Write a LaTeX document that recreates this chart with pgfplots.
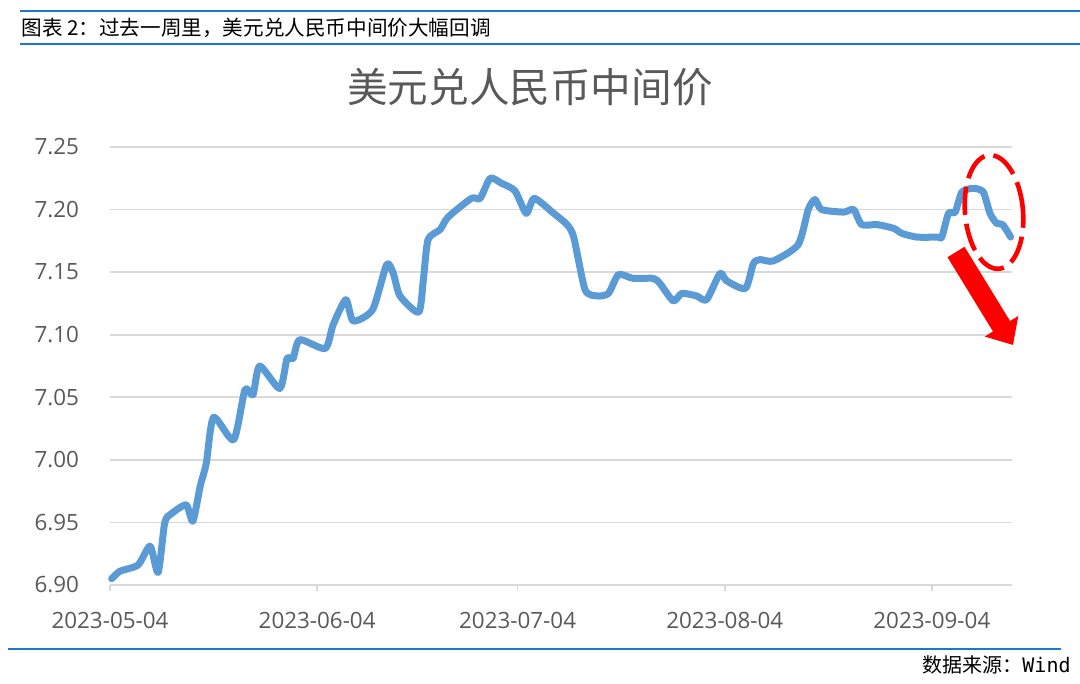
\documentclass[border=0pt]{standalone}
\usepackage{fontspec}
\usepackage{pgfplots}
\pgfplotsset{compat=1.18}
\usetikzlibrary{arrows.meta}
\setmainfont{Open Sans}
\newfontfamily\cjk{Noto Sans CJK SC}
\newfontfamily\mono{DejaVu Sans Mono}
\definecolor{hdrblue}{RGB}{30,120,200}
\definecolor{lineblue}{RGB}{91,155,213}
\definecolor{gridgray}{RGB}{217,217,217}
\definecolor{txtgray}{RGB}{89,89,89}

% day index counted from 2023-05-04
\pgfplotstableread{
day val
0.25 6.905
1.5 6.911
4.2 6.916
6.0 6.931
7.2 6.910
8.2 6.950
9.2 6.957
11.4 6.964
12.4 6.951
13.5 6.979
14.4 6.997
15.5 7.034
18.5 7.016
20.2 7.056
21.4 7.052
22.4 7.075
25.4 7.057
26.5 7.081
27.4 7.081
28.4 7.096
32.2 7.089
33.4 7.108
35.3 7.128
36.4 7.111
39.3 7.120
41.4 7.156
42.4 7.149
43.4 7.131
46.2 7.118
46.9 7.144
47.6 7.176
49.4 7.184
50.6 7.194
54.1 7.209
55.4 7.209
56.9 7.225
58.6 7.221
60.6 7.215
62.3 7.197
63.5 7.209
66.4 7.197
68.4 7.188
69.4 7.178
71.1 7.136
72.9 7.131
74.6 7.133
76.1 7.148
78.3 7.145
81.3 7.145
82.3 7.141
84.3 7.127
85.6 7.133
87.8 7.131
89.3 7.128
91.3 7.149
92.3 7.143
95.1 7.137
96.3 7.157
97.3 7.160
99.3 7.159
103.0 7.172
104.5 7.200
105.5 7.208
106.5 7.200
109.8 7.198
111.3 7.200
112.5 7.188
114.8 7.188
117.3 7.185
118.5 7.181
120.8 7.178
124.0 7.178
124.5 7.178
125.5 7.197
126.5 7.198
127.5 7.214
129.2 7.217
130.7 7.214
131.7 7.197
132.7 7.189
133.6 7.188
134.8 7.178
}\rate

\begin{document}
\begin{tikzpicture}[x=0.5pt,y=0.5pt]
\useasboundingbox (0,0) rectangle (1080,684);
% header
\draw[hdrblue, line width=1.2pt] (20,673) -- (1080,673);
\draw[hdrblue, line width=1.2pt] (20,640) -- (1080,640);
\node[anchor=west, inner sep=0pt] at (21,656) {\cjk\fontsize{10.3}{12}\selectfont 图表 2：过去一周里，美元兑人民币中间价大幅回调};
% title
\node[text=txtgray, inner sep=0pt] at (530,597) {\cjk\fontsize{20.3}{23}\selectfont 美元兑人民币中间价};
% footer
\draw[hdrblue, line width=1.2pt] (8,35) -- (1061,35);
\node[anchor=east, inner sep=0pt] at (1071,19) {\fontsize{10}{12}\selectfont{\cjk 数据来源：}{\mono Wind}};

\begin{axis}[
  at={(55pt,49.5pt)}, anchor=south west,
  scale only axis, width=451pt, height=219pt,
  xmin=0, xmax=135, ymin=6.9, ymax=7.25,
  axis x line*=bottom, axis y line*=left,
  x axis line style={draw=gridgray, line width=0.9pt},
  y axis line style={draw=none},
  ytick={6.9,6.95,7,7.05,7.1,7.15,7.2,7.25},
  ymajorgrids, grid style={draw=gridgray, line width=0.9pt},
  xtick={0,31,61,92,123},
  xticklabels={2023-05-04,2023-06-04,2023-07-04,2023-08-04,2023-09-04},
  tick align=outside, major tick length=3pt,
  xtick style={draw=gridgray, line width=0.9pt},
  ytick style={draw=none},
  ticklabel style={font=\fontsize{11.2}{13}\selectfont, text=txtgray},
  xticklabel style={yshift=-7pt},
  yticklabel style={xshift=-9pt, /pgf/number format/.cd, fixed, fixed zerofill, precision=2},
  /pgf/number format/assume math mode=true,
  clip=false,
]
\addplot[lineblue, line width=3.5pt, smooth, tension=0.4, line cap=round, line join=round] table[x=day, y=val] {\rate};
\end{axis}
% annotation
\draw[red, line width=2.3pt, dash pattern=on 14pt off 4.5pt, rotate around={5:(994,472)}] (994,472) ellipse [x radius=29, y radius=57];
\draw[red, line width=10pt, -{Triangle[width=19pt,length=11pt]}] (956,432) -- (1013,339);
\end{tikzpicture}
\end{document}
